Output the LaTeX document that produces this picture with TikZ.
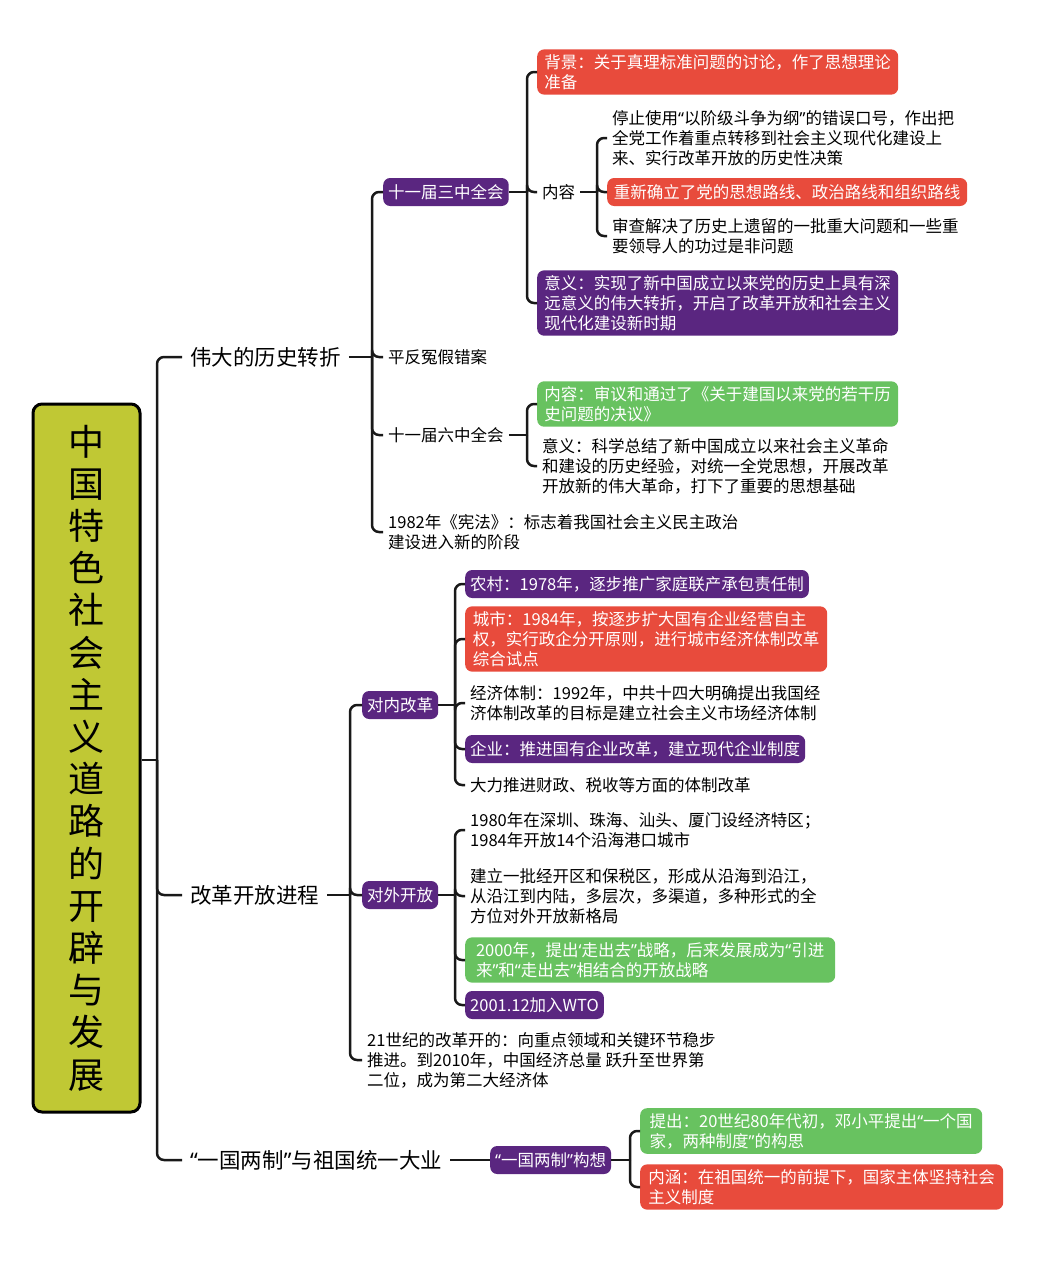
\documentclass[tikz,border=0pt]{standalone}
\usepackage{fontspec}
\setmainfont{Noto Sans CJK SC}
\newfontfamily\qfont{Noto Sans}
\newcommand\oqt{{\qfont “}}
\newcommand\cqt{{\qfont ”}}
\newcommand\osq{{\qfont ‘}}
\definecolor{rootfill}{RGB}{192,200,52}
\definecolor{boxred}{RGB}{232,75,60}
\definecolor{boxpurple}{RGB}{90,38,128}
\definecolor{boxgreen}{RGB}{104,194,96}
\tikzset{
  link/.style={line width=2.5pt, rounded corners=7pt, color=black!90},
  lvone/.style={anchor=west, inner xsep=8pt, font=\fontsize{21.5}{26}\selectfont},
  leaf/.style={anchor=west, inner xsep=5pt, inner ysep=3pt, align=left, font=\fontsize{16.5}{20}\selectfont},
  tag/.style={leaf, text=white, rounded corners=7pt, minimum height=28pt, inner ysep=5pt},
  redtag/.style={tag, fill=boxred},
  purpletag/.style={tag, fill=boxpurple},
  greentag/.style={tag, fill=boxgreen}
}
\begin{document}
\begin{tikzpicture}[x=1pt,y=-1pt]
\fill[white] (0,0) rectangle (1053,1280);
\useasboundingbox (0,0) rectangle (1053,1280);
%root
\node[draw, line width=3pt, fill=rootfill, rounded corners=9pt, minimum width=107pt, minimum height=708pt,
  align=center, font=\fontsize{36}{42.2}\selectfont] (root) at (86.5,758)
  {中\\国\\特\\色\\社\\会\\主\\义\\道\\路\\的\\开\\辟\\与\\发\\展};
\coordinate (j0) at (157,760);
\draw[link] (root.east |- j0) -- (j0);
%first level
\node[lvone] (hist) at (182,357) {伟大的历史转折};
\node[lvone] (open) at (182,895) {改革开放进程};
\node[lvone] (unif) at (182,1160) {\oqt 一国两制\cqt 与祖国统一大业};
\foreach \n in {hist,open,unif} \draw[link] (j0) |- (\n.west);
%history
\coordinate (j1) at (372,357);
\draw[link] (hist.east) -- (j1);
\node[purpletag] (third) at (383,192) {十一届三中全会};
\node[leaf] (rehab) at (383,357) {平反冤假错案};
\node[leaf] (sixth) at (383,435) {十一届六中全会};
\node[leaf] (const) at (383,532) {1982年《宪法》：标志着我国社会主义民主政治\\建设进入新的阶段};
\foreach \n in {third,rehab,sixth,const} \draw[link] (j1) |- (\n.west);
%third plenum
\coordinate (j2) at (527,192);
\draw[link] (third.east) -- (j2);
\node[redtag, minimum width=361pt] (bg) at (537,72) {背景：关于真理标准问题的讨论，作了思想理论\\准备};
\node[leaf] (cont) at (537,192) {内容};
\node[purpletag, minimum width=361pt] (mean) at (537,303) {意义：实现了新中国成立以来党的历史上具有深\\远意义的伟大转折，开启了改革开放和社会主义\\现代化建设新时期};
\foreach \n in {bg,cont,mean} \draw[link] (j2) |- (\n.west);
\coordinate (j3) at (597,192);
\draw[link] (cont.east) -- (j3);
\node[leaf] (stop) at (607,138) {停止使用\oqt 以阶级斗争为纲\cqt 的错误口号，作出把\\全党工作着重点转移到社会主义现代化建设上\\来、实行改革开放的历史性决策};
\node[redtag, minimum width=360pt] (line) at (607,192) {重新确立了党的思想路线、政治路线和组织路线};
\node[leaf] (review) at (607,236) {审查解决了历史上遗留的一批重大问题和一些重\\要领导人的功过是非问题};
\foreach \n in {stop,line,review} \draw[link] (j3) |- (\n.west);
%sixth plenum
\coordinate (j4) at (527,435);
\draw[link] (sixth.east) -- (j4);
\node[greentag, minimum width=361pt] (resol) at (537,404) {内容：审议和通过了《关于建国以来党的若干历\\史问题的决议》};
\node[leaf] (sum) at (537,466) {意义：科学总结了新中国成立以来社会主义革命\\和建设的历史经验，对统一全党思想，开展改革\\开放新的伟大革命，打下了重要的思想基础};
\foreach \n in {resol,sum} \draw[link] (j4) |- (\n.west);
%reform and opening
\coordinate (j5) at (350,895);
\draw[link] (open.east) -- (j5);
\node[purpletag] (inner) at (362,705) {对内改革};
\node[purpletag] (outer) at (362,895) {对外开放};
\node[leaf] (cent) at (362,1060) {21世纪的改革开的：向重点领域和关键环节稳步\\推进。到2010年，中国经济总量 跃升至世界第\\二位，成为第二大经济体};
\foreach \n in {inner,outer,cent} \draw[link] (j5) |- (\n.west);
\coordinate (j6) at (455,705);
\draw[link] (inner.east) -- (j6);
\node[purpletag] (rural) at (465,584) {农村：1978年，逐步推广家庭联产承包责任制};
\node[redtag, minimum width=362pt] (city) at (465,639) {城市：1984年，按逐步扩大国有企业经营自主\\权，实行政企分开原则，进行城市经济体制改革\\综合试点};
\node[leaf] (econ) at (465,703) {经济体制：1992年，中共十四大明确提出我国经\\济体制改革的目标是建立社会主义市场经济体制};
\node[purpletag] (firm) at (465,749) {企业：推进国有企业改革，建立现代企业制度};
\node[leaf] (tax) at (465,785) {大力推进财政、税收等方面的体制改革};
\foreach \n in {rural,city,econ,firm,tax} \draw[link] (j6) |- (\n.west);
\coordinate (j7) at (455,895);
\draw[link] (outer.east) -- (j7);
\node[leaf] (zone) at (465,830) {1980年在深圳、珠海、汕头、厦门设经济特区；\\1984年开放14个沿海港口城市};
\node[leaf] (bond) at (465,896) {建立一批经开区和保税区，形成从沿海到沿江，\\从沿江到内陆，多层次，多渠道，多种形式的全\\方位对外开放新格局};
\node[greentag, minimum width=370pt] (goout) at (465,960) {2000年，提出\osq 走出去\cqt 战略，后来发展成为\oqt 引进\\来\cqt 和\oqt 走出去\cqt 相结合的开放战略};
\node[purpletag] (wto) at (465,1005) {2001.12加入WTO};
\foreach \n in {zone,bond,goout,wto} \draw[link] (j7) |- (\n.west);
%one country two systems
\node[purpletag] (idea) at (490,1160) {\oqt 一国两制\cqt 构想};
\draw[link] (unif.east) -- (idea.west);
\coordinate (j8) at (630,1160);
\draw[link] (idea.east) -- (j8);
\node[greentag, minimum width=342pt] (prop) at (640,1131) {提出：20世纪80年代初，邓小平提出\oqt 一个国\\家，两种制度\cqt 的构思};
\node[redtag, minimum width=363pt] (core) at (640,1187) {内涵：在祖国统一的前提下，国家主体坚持社会\\主义制度};
\foreach \n in {prop,core} \draw[link] (j8) |- (\n.west);
\end{tikzpicture}
\end{document}
